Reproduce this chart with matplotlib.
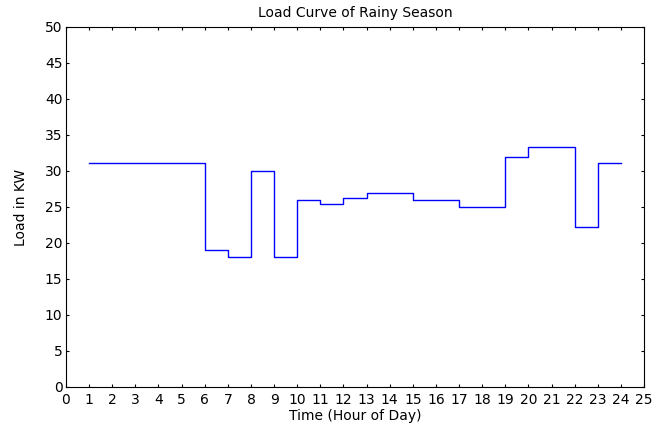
import matplotlib
matplotlib.use("Agg")
import matplotlib.pyplot as plt

# hourly load (kW), value held from each hour to the next
hours = list(range(1, 25))
load_kw = [31.1, 31.1, 31.1, 31.1, 31.1, 19.0, 18.0, 30.0, 18.0, 26.0, 25.4, 26.2,
           27.0, 27.0, 26.0, 26.0, 25.0, 25.0, 32.0, 33.3, 33.3, 22.2, 31.1, 31.1]

x_ticks = list(range(0, 26))
y_ticks = list(range(0, 51, 5))

# the original text is wide, DejaVu comes closest
plt.rcParams["font.family"] = ["DejaVu Sans"]

fig = plt.figure(figsize=(6.7, 4.26), dpi=100)
ax = fig.add_axes([66 / 670, 1 - 387 / 426, 578 / 670, 360 / 426])

ax.step(hours, load_kw, where="post", color="#0000ff", linewidth=1.0)

ax.set_xlim(0, 25)
ax.set_ylim(0, 50)
ax.set_xticks(x_ticks)
ax.set_yticks(y_ticks)
ax.tick_params(direction="in", top=True, right=True, length=2.5, width=0.8,
               labelsize=10)
ax.tick_params(axis="x", pad=4.5)
ax.tick_params(axis="y", pad=2.5)
for s in ax.spines.values():
    s.set_linewidth(0.8)

ax.set_title("Load Curve of Rainy Season", fontsize=10, pad=7)
ax.set_xlabel("Time (Hour of Day)", fontsize=10, labelpad=1)
ax.set_ylabel("Load in KW", fontsize=10, labelpad=12)

fig.savefig("out.png", dpi=100)
